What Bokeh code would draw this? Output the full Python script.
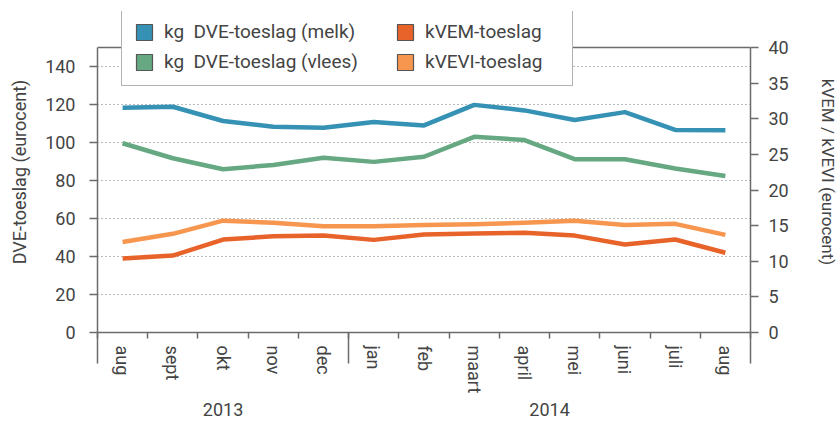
import numpy as np
from bokeh.plotting import figure
from bokeh.models import (Range1d, LinearAxis, FixedTicker, Legend, LegendItem, Grid, Span)
from bokeh.embed import file_html
from bokeh.resources import INLINE

# ---------------- data ----------------
months = ["aug", "sept", "okt", "nov", "dec", "jan", "feb", "maart", "april", "mei", "juni", "juli", "aug"]
years = ["2013", "2014"]
months_per_year = [5, 8]

dve_melk = [118.3, 118.8, 111.3, 108.3, 107.8, 110.8, 109.0, 119.8, 116.9, 111.8, 116.0, 106.6, 106.4]
dve_vlees = [99.6, 91.7, 85.9, 88.2, 92.0, 89.8, 92.5, 103.0, 101.3, 91.2, 91.2, 86.3, 82.4]
kvem = [10.4, 10.8, 13.05, 13.5, 13.6, 13.0, 13.75, 13.9, 14.0, 13.6, 12.35, 13.05, 11.2]
kvevi = [12.7, 13.85, 15.7, 15.4, 14.9, 14.9, 15.1, 15.2, 15.4, 15.7, 15.1, 15.25, 13.7]

left_ticks = [0, 20, 40, 60, 80, 100, 120, 140]
right_ticks = [0, 5, 10, 15, 20, 25, 30, 35, 40]
left_max = 150
right_max = 40

series_labels = ["kg  DVE-toeslag (melk)", "kg  DVE-toeslag (vlees)", "kVEM-toeslag", "kVEVI-toeslag"]
colors = ["#3592b4", "#65a882", "#e8632a", "#f7964f"]

# ---------------- layout (pixels) ----------------
W, H = 840, 424
FRAME_L, FRAME_R = 97, 754
AXIS_TOP, FRAME_BOTTOM = 47, 332      # where the value axes end
FRAME_TOP = 11                        # frame extended up so the legend fits inside it
stretch = (FRAME_BOTTOM - FRAME_TOP) / (FRAME_BOTTOM - AXIS_TOP)

n = len(months)
centers = [i + 0.5 for i in range(n)]
boundaries = list(range(n + 1))
year_edges = [float(e) for e in np.cumsum([0] + months_per_year)]
year_centers = [(year_edges[i] + year_edges[i + 1]) / 2 for i in range(len(years))]

FONT = "Roboto"
TXT = "#444444"
AX = "#6b6b6b"

p = figure(width=W, height=H, output_backend="svg", toolbar_location=None,
           x_range=Range1d(0, n), y_range=Range1d(0, left_max * stretch),
           x_axis_type=None, y_axis_type=None,
           min_border_left=FRAME_L, min_border_right=W - FRAME_R,
           min_border_top=FRAME_TOP, min_border_bottom=H - FRAME_BOTTOM)
p.extra_y_ranges = {"right": Range1d(0, right_max * stretch)}
p.outline_line_color = None
p.background_fill_color = "white"
p.border_fill_color = "white"

def style_axis(ax):
    ax.axis_line_color = AX
    ax.axis_line_width = 1.5
    ax.major_tick_line_color = AX
    ax.major_tick_line_width = 1.5
    ax.minor_tick_line_color = AX
    ax.minor_tick_line_width = 1.5
    ax.major_label_text_font = FONT
    ax.major_label_text_color = TXT
    ax.major_label_text_font_size = "18px"
    ax.axis_label_text_font = FONT
    ax.axis_label_text_color = TXT
    ax.axis_label_text_font_size = "17px"
    ax.axis_label_text_font_style = "normal"
    ax.major_tick_in = 0
    ax.minor_tick_in = 0

# left axis
yl = LinearAxis(ticker=FixedTicker(ticks=left_ticks), axis_label="DVE-toeslag (eurocent)",
                bounds=(0, left_max))
style_axis(yl)
yl.axis_label_text_font_size = "18px"
yl.major_tick_out = 8
yl.major_label_standoff = 14
yl.axis_label_standoff = 12
p.add_layout(yl, "left")

# right axis
yr = LinearAxis(y_range_name="right", ticker=FixedTicker(ticks=right_ticks),
                axis_label="kVEM / kVEVI (eurocent)", bounds=(0, right_max))
style_axis(yr)
yr.major_tick_out = 8
yr.major_label_standoff = 10
yr.axis_label_standoff = 26
if "axis_label_orientation" in yr.properties():
    yr.axis_label_orientation = "vertical"
p.add_layout(yr, "right")

# x axis 1: axis line, short ticks between months, long ticks at year edges
xt = LinearAxis(ticker=FixedTicker(ticks=year_edges, minor_ticks=boundaries),
                major_label_overrides={e: "" for e in year_edges})
style_axis(xt)
xt.major_tick_out = 31
xt.minor_tick_out = 6
xt.major_label_standoff = 0
xt.major_label_text_font_size = "0px"
p.add_layout(xt, "below")

# x axis 2: month labels
xa = LinearAxis(ticker=FixedTicker(ticks=centers),
                major_label_overrides={c: m for c, m in zip(centers, months)})
style_axis(xa)
xa.axis_line_color = None
xa.major_tick_line_color = None
xa.major_tick_out = 0
xa.major_label_orientation = "vertical"
xa.major_label_standoff = -18
p.add_layout(xa, "below")

# x axis 3: year labels
xy = LinearAxis(ticker=FixedTicker(ticks=year_centers),
                major_label_overrides={c: y for c, y in zip(year_centers, years)})
style_axis(xy)
xy.axis_line_color = None
xy.major_tick_line_color = None
xy.major_tick_out = 0
xy.major_label_standoff = 6
p.add_layout(xy, "below")

# grid
grid = Grid(dimension=1, ticker=FixedTicker(ticks=left_ticks[1:]),
            grid_line_color="#777777", grid_line_dash="1 3", grid_line_width=1)
p.add_layout(grid)

# top edge of the plot box
p.add_layout(Span(location=left_max, dimension="width", line_color=AX, line_width=1.5))

# lines
lw = 4.5
p.line(centers, dve_melk, line_width=lw, color=colors[0], line_join="round")
p.line(centers, dve_vlees, line_width=lw, color=colors[1], line_join="round")
p.line(centers, kvem, line_width=lw, color=colors[2], line_join="round", y_range_name="right")
p.line(centers, kvevi, line_width=lw, color=colors[3], line_join="round", y_range_name="right")

# legend swatches (NaN data: nothing drawn in the plot, only in the legend)
nan = [float("nan")]
sw = [p.quad(left=nan, right=nan, top=nan, bottom=nan, fill_color=c,
             line_color="#555555", line_width=1.2)
      for c in colors]

def make_legend(idx, loc, label_width, border):
    lg = Legend(items=[LegendItem(label=series_labels[i], renderers=[sw[i]]) for i in idx],
                location=loc, orientation="vertical", margin=0, padding=12, spacing=7,
                glyph_width=20, glyph_height=20, label_standoff=10, label_width=label_width,
                label_height=22,
                label_text_font=FONT, label_text_font_size="19px", label_text_color=TXT)
    if border:
        lg.border_line_color = "#666666"
        lg.border_line_width = 1.5
        lg.background_fill_color = "white"
        lg.background_fill_alpha = 1.0
    else:
        lg.border_line_color = None
        lg.background_fill_alpha = 0.0
    return lg

p.add_layout(make_legend([0, 1], (121 - FRAME_L, FRAME_BOTTOM - 86), 396, True))
p.add_layout(make_legend([2, 3], (395 - FRAME_L, FRAME_BOTTOM - 86 + 13), 20, False))

open("out.html", "w").write(file_html(p, INLINE))
